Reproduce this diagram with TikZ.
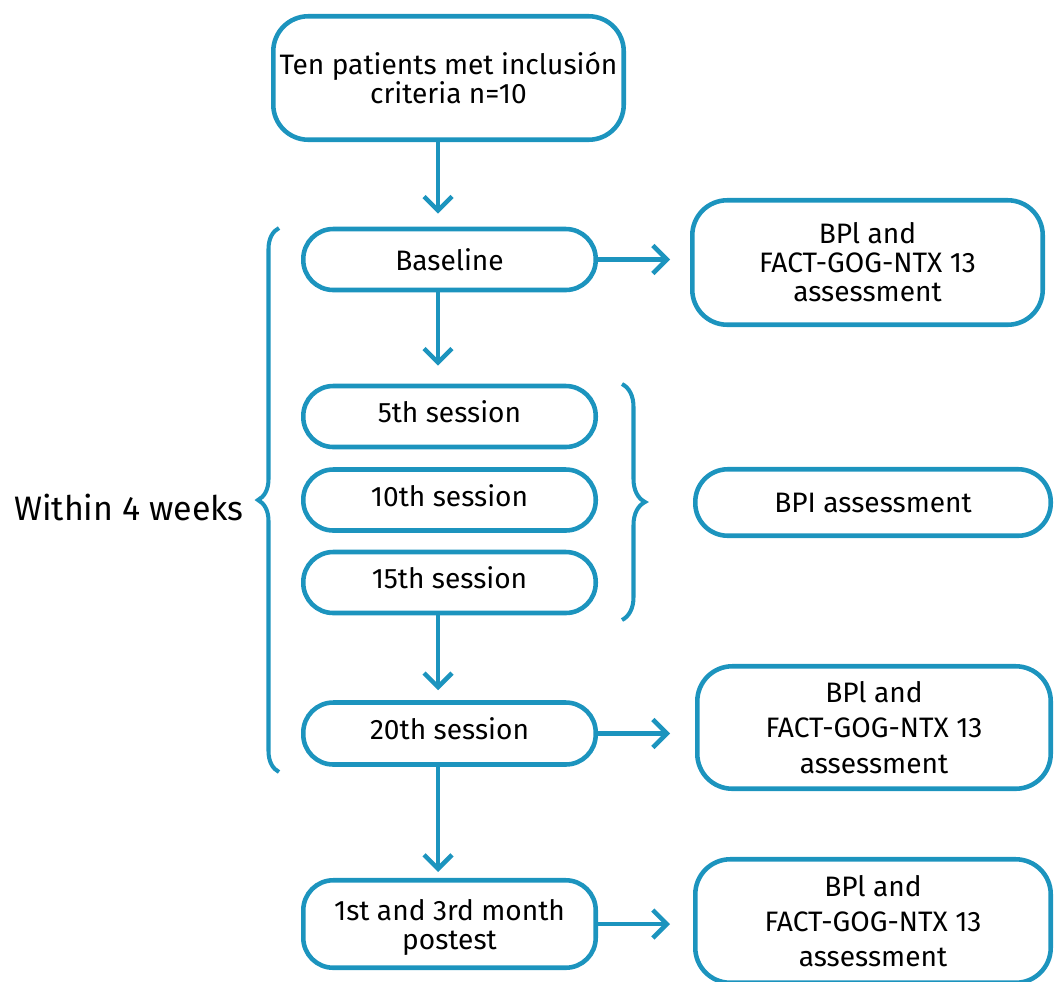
\documentclass[tikz,border=0pt]{standalone}
\usepackage{fontspec}
\setmainfont{Fira Sans}
\usepackage{xcolor}
\usetikzlibrary{positioning, arrows.meta, decorations.pathreplacing}
\definecolor{flowblue}{RGB}{28,148,190}

\begin{document}
\begin{tikzpicture}[x=0.02cm,y=-0.02cm,
    box/.style={draw=flowblue,line width=2.6pt,rounded corners=0.7cm,align=center,
      inner sep=0pt,font=\fontsize{16}{16.5}\selectfont},
    wide/.style={box,font=\fontsize{16}{20}\selectfont},
    pill/.style={box,rounded corners=0.6cm,minimum width=5.85cm,minimum height=1.22cm},
    lift/.style={text depth=0.55em},
    arr/.style={draw=flowblue,line width=2.6pt,-{Straight Barb[length=0.28cm,width=0.56cm]}},
    brc/.style={draw=flowblue,line width=2.3pt,decorate,decoration={brace,amplitude=#1}}]
  \useasboundingbox (0,0) rectangle (1060,981);
  \coordinate (ax) at (438,0);
  % main column
  \node[box,minimum width=7.01cm,minimum height=2.47cm] (top) at (448.5,78)
    {Ten patients met inclusión\\criteria n=10};
  \node[pill] (base) at (449.5,259.5) {Baseline};
  \node[pill,lift] (s5) at (449.5,416.5) {5th session};
  \node[pill,lift] (s10) at (449.5,500) {10th session};
  \node[pill,lift] (s15) at (449.5,582.5) {15th session};
  \node[pill,lift,minimum height=1.24cm] (s20) at (449.5,733.5) {20th session};
  \node[pill,text depth=0pt,minimum height=1.75cm] (post) at (449.5,924) {1st and 3rd month\\postest};
  % assessments
  \node[box,minimum width=7.01cm,minimum height=2.49cm] (bpa) at (867.5,262.5)
    {BPl and\\FACT-GOG-NTX 13\\assessment};
  \node[box,rounded corners=0.65cm,minimum width=7.11cm,minimum height=1.33cm] (bpi) at (873,502.5)
    {BPI assessment};
  \node[wide,minimum width=7.07cm,minimum height=2.45cm] (bpb) at (874,727.5)
    {BPl and\\FACT-GOG-NTX 13\\assessment};
  \node[wide,minimum width=7.11cm,minimum height=2.47cm] (bpc) at (873,921)
    {BPl and\\FACT-GOG-NTX 13\\assessment};
  % arrows
  \draw[arr,shorten >=0.26cm] (ax |- top.south) -- (ax |- base.north);
  \draw[arr,shorten >=0.36cm] (ax |- base.south) -- (ax |- s5.north);
  \draw[arr,shorten >=0.2cm] (ax |- s15.south) -- (ax |- s20.north);
  \draw[arr,shorten >=0.12cm] (ax |- s20.south) -- (ax |- post.north);
  \draw[arr,shorten >=0.4cm] (base.east) -- (base.east -| bpa.west);
  \draw[arr,shorten >=0.5cm] (s20.east) -- (s20.east -| bpb.west);
  \draw[arr,shorten >=0.46cm] (post.east) -- (post.east -| bpc.west);
  % braces
  \coordinate (lbt) at (279,228);
  \coordinate (lbb) at (279,772);
  \coordinate (rbt) at (622,384);
  \coordinate (rbb) at (622,620);
  \draw[brc=0.42cm] (lbb) -- (lbt);
  \draw[brc=0.46cm] (rbt) -- (rbb);
  \node[font=\fontsize{19.3}{22}\selectfont] (weeks) at (129,507) {Within 4 weeks};
\end{tikzpicture}
\end{document}
